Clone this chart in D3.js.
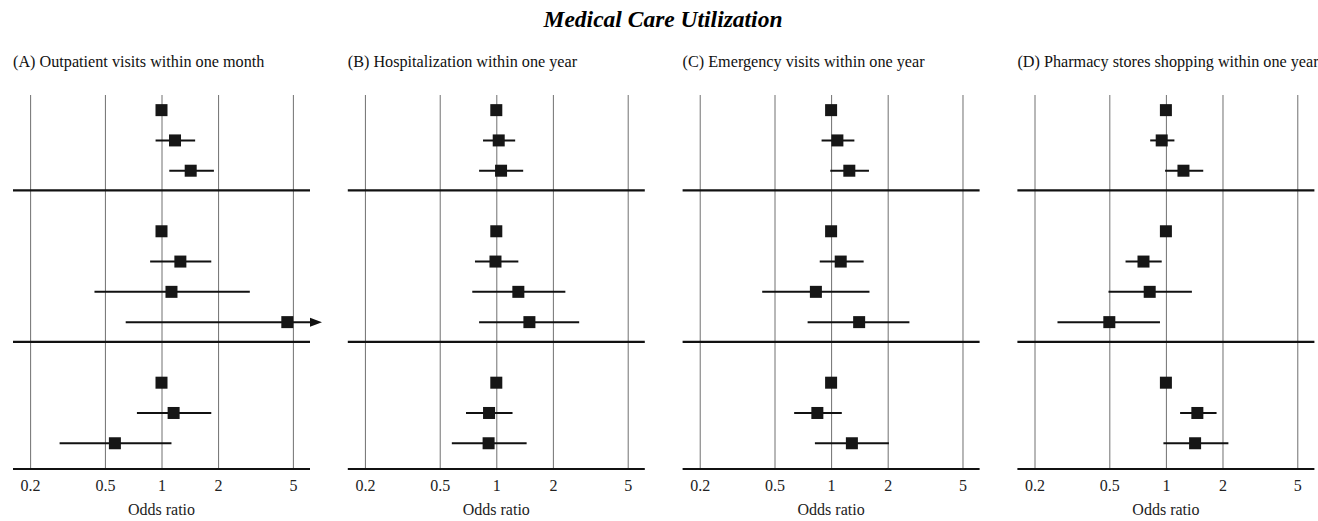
<!DOCTYPE html>
<html>
<head>
<meta charset="utf-8">
<script src="https://cdnjs.cloudflare.com/ajax/libs/d3/7.8.5/d3.min.js"></script>
<style>
  body { margin: 0; background: #fff; }
  svg { display: block; font-family: "Liberation Serif", "Times New Roman", serif; }
  .grid line { stroke: #707070; stroke-width: 1; }
  .grid text { font-family: "Liberation Serif", "Times New Roman", serif; font-size: 16px; fill: #222; }
</style>
</head>
<body>
<div id="chart"></div>
<script>
// chart data
var mainTitle = "Medical Care Utilization";
var panelTitles = [
    "(A) Outpatient visits within one month",
    "(B) Hospitalization within one year",
    "(C) Emergency visits within one year",
    "(D) Pharmacy stores shopping within one year"
];
var tickValues = [0.2, 0.5, 1, 2, 5];
var groupSizes = [3, 4, 3];

// odds ratio, lower CI, upper CI (null = reference category)
var orA = [1, 1.18, 1.43, 1, 1.26, 1.13, 4.67, 1, 1.16, 0.565];
var loA = [null, 0.93, 1.10, null, 0.87, 0.44, 0.645, null, 0.74, 0.287];
var hiA = [null, 1.51, 1.90, null, 1.84, 2.95, 9.5, null, 1.84, 1.13];

var orB = [1, 1.03, 1.06, 1, 0.99, 1.31, 1.50, 1, 0.915, 0.91];
var loB = [null, 0.85, 0.81, null, 0.77, 0.745, 0.81, null, 0.69, 0.58];
var hiB = [null, 1.26, 1.39, null, 1.31, 2.33, 2.76, null, 1.22, 1.45];

var orC = [1, 1.08, 1.25, 1, 1.125, 0.83, 1.41, 1, 0.845, 1.29];
var loC = [null, 0.89, 0.99, null, 0.87, 0.43, 0.75, null, 0.636, 0.82];
var hiC = [null, 1.33, 1.59, null, 1.49, 1.60, 2.61, null, 1.14, 2.03];

var orD = [1, 0.95, 1.24, 1, 0.76, 0.82, 0.50, 1, 1.47, 1.43];
var loD = [null, 0.825, 0.99, null, 0.61, 0.495, 0.265, null, 1.19, 0.97];
var hiD = [null, 1.11, 1.58, null, 0.95, 1.375, 0.93, null, 1.86, 2.15];

var panelData = [[orA, loA, hiA], [orB, loB, hiB], [orC, loC, hiC], [orD, loD, hiD]];

var width = 1318, height = 521;
var panelLeft = 13, panelStride = 334.8, panelWidth = 297;
var plotTop = 95, plotBottom = 469;

var svg = d3.select("#chart").append("svg")
    .attr("width", width)
    .attr("height", height);

svg.append("text")
    .attr("x", 663)
    .attr("y", 27)
    .attr("text-anchor", "middle")
    .style("font-size", "23.5px")
    .style("font-weight", "bold")
    .style("font-style", "italic")
    .text(mainTitle);

// row layout in "row units"
var rowPos = [], sepPos = [];
var u = 0;
groupSizes.forEach(function (n, g) {
    u += (g === 0) ? 0.5 : 1.35;
    for (var i = 0; i < n; i++) {
        rowPos.push(u);
        if (i < n - 1) u += 1;
    }
    u += (g === groupSizes.length - 1) ? 0.85 : 0.65;
    sepPos.push(u);
});

var yScale = d3.scaleLinear().domain([0, u]).range([plotTop, plotBottom]);

panelData.forEach(function (p, k) {
    var x0 = panelLeft + k * panelStride;
    var xScale = d3.scaleLog()
        .domain([Math.pow(10, -0.79), Math.pow(10, 0.79)])
        .range([x0, x0 + panelWidth]);

    svg.append("text")
        .attr("x", x0)
        .attr("y", 67)
        .style("font-size", "16.2px")
        .style("fill", "#111")
        .text(panelTitles[k]);

    var xAxis = d3.axisBottom(xScale)
        .tickValues(tickValues)
        .tickFormat(d3.format(""))
        .tickSize(-(plotBottom - plotTop))
        .tickPadding(11);

    var ax = svg.append("g")
        .attr("class", "grid")
        .attr("transform", "translate(0," + plotBottom + ")")
        .call(xAxis);
    ax.attr("font-family", null).attr("font-size", null);
    ax.select(".domain").remove();

    svg.append("text")
        .attr("x", xScale(1))
        .attr("y", 515)
        .attr("text-anchor", "middle")
        .style("font-size", "16px")
        .style("fill", "#222")
        .text("Odds ratio");

    // group separators + bottom rule
    svg.selectAll(null)
        .data(sepPos)
        .enter().append("line")
        .attr("x1", x0)
        .attr("x2", x0 + panelWidth)
        .attr("y1", function (d) { return yScale(d); })
        .attr("y2", function (d) { return yScale(d); })
        .attr("stroke", "#111")
        .attr("stroke-width", 2.2);

    var rows = p[0].map(function (or, i) {
        return {or: or, lo: p[1][i], hi: p[2][i], pos: rowPos[i]};
    });
    var dMax = xScale.domain()[1];

    var g = svg.append("g");

    g.selectAll(".ci")
        .data(rows.filter(function (d) { return d.lo !== null; }))
        .enter().append("line")
        .attr("class", "ci")
        .attr("x1", function (d) { return xScale(d.lo); })
        .attr("x2", function (d) { return xScale(Math.min(d.hi, dMax)); })
        .attr("y1", function (d) { return yScale(d.pos); })
        .attr("y2", function (d) { return yScale(d.pos); })
        .attr("stroke", "#111")
        .attr("stroke-width", 2);

    // arrow where upper limit runs off the scale
    g.selectAll(".arrow")
        .data(rows.filter(function (d) { return d.hi !== null && d.hi > dMax; }))
        .enter().append("path")
        .attr("class", "arrow")
        .attr("d", function (d) {
            var xa = xScale(dMax), ya = yScale(d.pos);
            return "M" + xa + "," + (ya - 4.5) + "L" + (xa + 12) + "," + ya + "L" + xa + "," + (ya + 4.5) + "Z";
        })
        .attr("fill", "#111");

    g.selectAll(".pt")
        .data(rows)
        .enter().append("rect")
        .attr("class", "pt")
        .attr("x", function (d) { return xScale(d.or) - 6; })
        .attr("y", function (d) { return yScale(d.pos) - 6; })
        .attr("width", 12)
        .attr("height", 12)
        .attr("fill", "#161616");
});
</script>
</body>
</html>
